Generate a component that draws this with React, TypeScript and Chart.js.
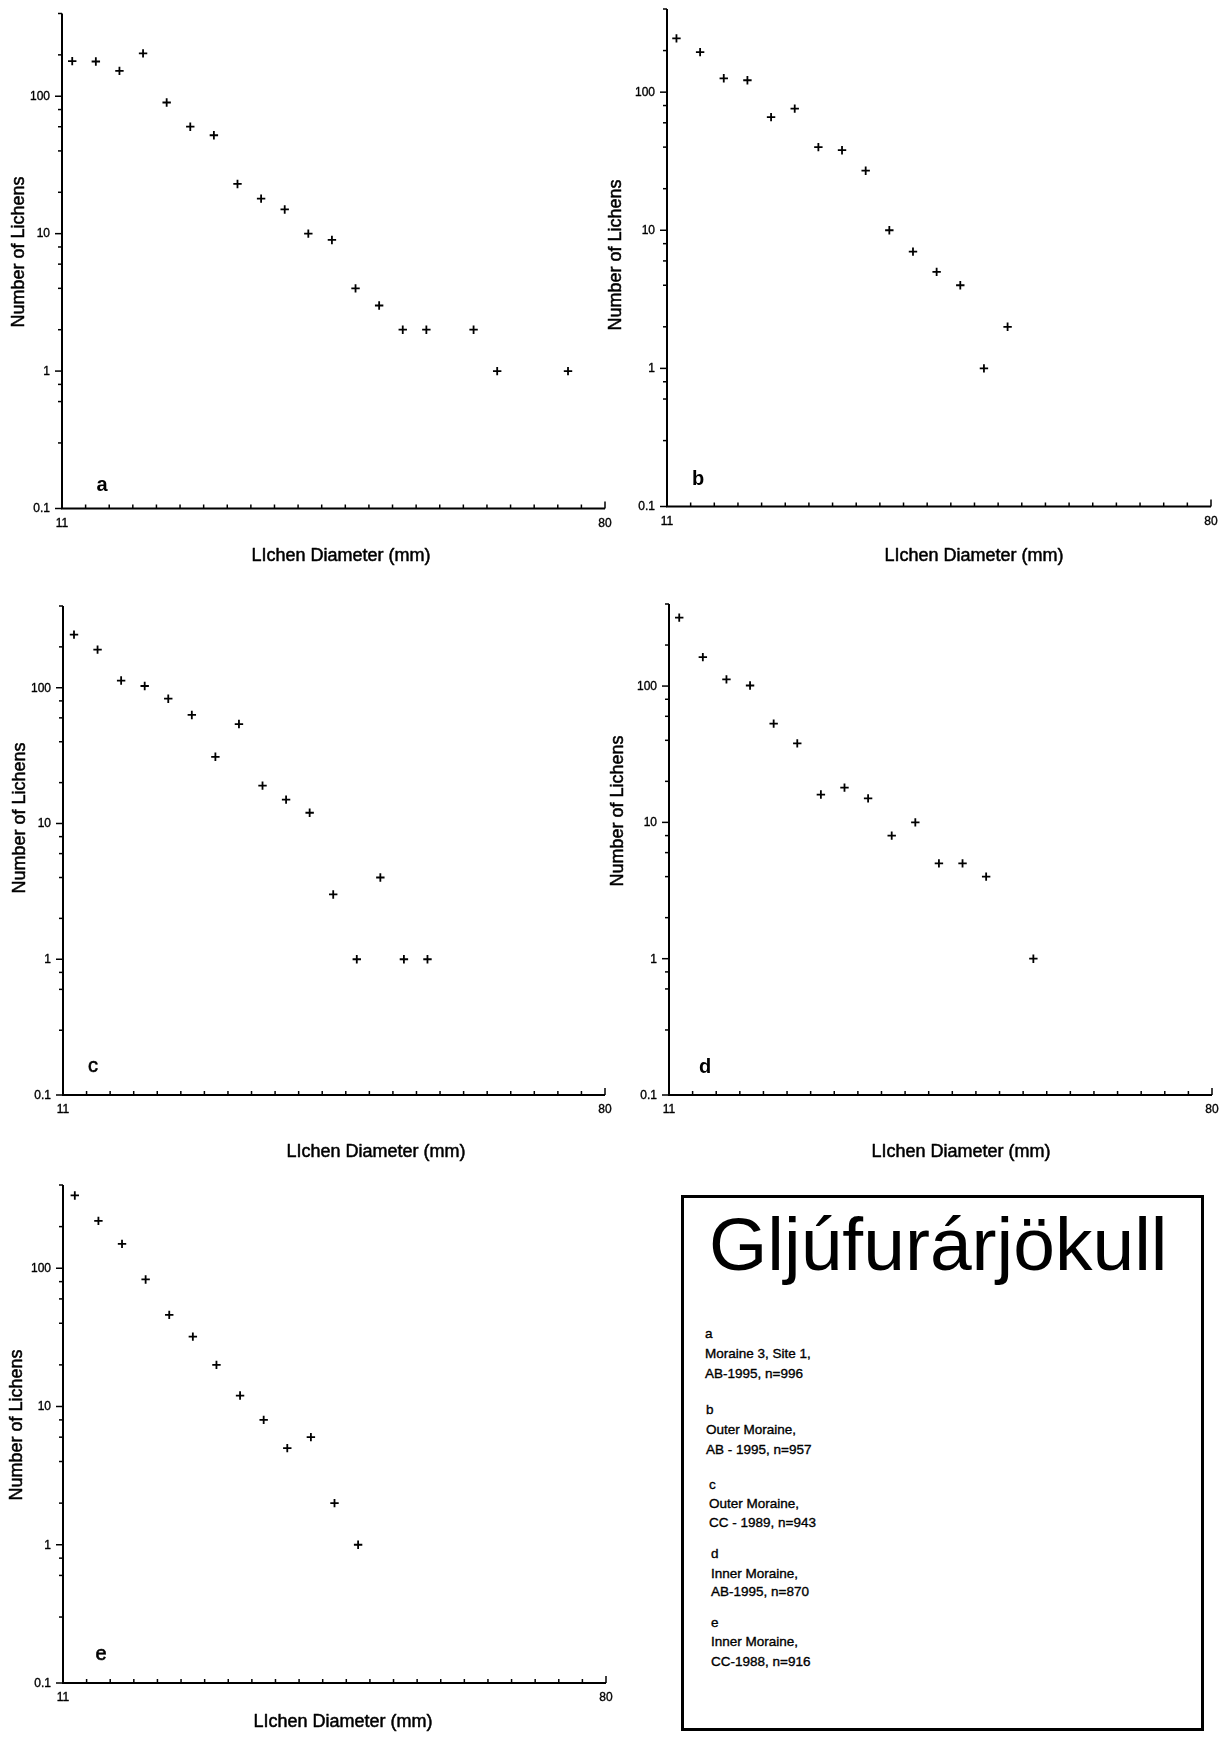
import React, { useEffect, useRef } from 'react';
import { Chart, registerables } from 'chart.js';

Chart.register(...registerables);

// ---------------- data ----------------
const X_A = [12.3, 15.3, 18.3, 21.3, 24.3, 27.3, 30.3, 33.3, 36.3, 39.3, 42.3, 45.3, 48.3, 51.3, 54.3, 57.3, 63.3, 66.3, 75.3];
const Y_A = [180, 179, 153, 205, 90, 60, 52, 23, 18, 15, 10, 9, 4, 3, 2, 2, 2, 1, 1];

const X_B = [12.2, 15.2, 18.2, 21.2, 24.2, 27.2, 30.2, 33.2, 36.2, 39.2, 42.2, 45.2, 48.2, 51.2, 54.2];
const Y_B = [245, 195, 126, 122, 66, 76, 40, 38, 27, 10, 7, 5, 4, 1, 2];

const X_C = [12.4, 15.4, 18.4, 21.4, 24.4, 27.4, 30.4, 33.4, 36.4, 39.4, 42.4, 45.4, 48.4, 51.4, 54.4, 57.4];
const Y_C = [246, 191, 113, 103, 83, 63, 31, 54, 19, 15, 12, 3, 1, 4, 1, 1];

const X_D = [12.3, 15.3, 18.3, 21.3, 24.3, 27.3, 30.3, 33.3, 36.3, 39.3, 42.3, 45.3, 48.3, 51.3, 57.3];
const Y_D = [318, 163, 112, 101, 53, 38, 16, 18, 15, 8, 10, 5, 5, 4, 1];

const X_E = [12.5, 15.5, 18.5, 21.5, 24.5, 27.5, 30.5, 33.5, 36.5, 39.5, 42.5, 45.5, 48.5];
const Y_E = [336, 220, 150, 83, 46, 32, 20, 12, 8, 5, 6, 2, 1];

const PANEL_LETTERS = ['a', 'b', 'c', 'd', 'e'];
const Y_LABEL_VALUES = [0.1, 1, 10, 100];
const Y_LABEL_TEXTS = ['0.1', '1', '10', '100'];
const X_LABEL_VALUES = [11, 80];
const X_LABEL_TEXTS = ['11', '80'];
const X_MIN = 11;
const X_MAX = 80;
const X_STEP = 3;
const Y_MIN = 0.1;
const Y_MAX = 400;
const Y_TITLE = 'Number of Lichens';
const X_TITLE = 'LIchen Diameter (mm)';

const LEGEND_TITLE = 'Gljúfurárjökull';
const LEGEND_LINES = [
  'a', 'Moraine 3, Site 1,', 'AB-1995, n=996',
  'b', 'Outer Moraine,', 'AB - 1995, n=957',
  'c', 'Outer Moraine,', 'CC - 1989, n=943',
  'd', 'Inner Moraine,', 'AB-1995, n=870',
  'e', 'Inner Moraine,', 'CC-1988, n=916',
];

// ---------------- layout (page coordinates) ----------------
type Layout = {
  canvas: { x: number; y: number; w: number; h: number };
  plot: { l: number; r: number; t: number; b: number };
  yTitle: { x: number; y: number };
  xTitle: { x: number; y: number };
  letter: { x: number; y: number; bold: boolean };
};

const LAYOUTS: Layout[] = [
  { canvas: { x: 0, y: 0, w: 615, h: 580 }, plot: { l: 62, r: 605, t: 13.5, b: 508.5 }, yTitle: { x: 19, y: 252 }, xTitle: { x: 341, y: 556 }, letter: { x: 102, y: 485, bold: true } },
  { canvas: { x: 600, y: 0, w: 625, h: 580 }, plot: { l: 667, r: 1211, t: 9, b: 506.5 }, yTitle: { x: 616, y: 255 }, xTitle: { x: 974, y: 556 }, letter: { x: 698, y: 479, bold: true } },
  { canvas: { x: 0, y: 585, w: 615, h: 580 }, plot: { l: 63, r: 605, t: 606, b: 1095 }, yTitle: { x: 20, y: 818 }, xTitle: { x: 376, y: 1152 }, letter: { x: 93, y: 1066, bold: false } },
  { canvas: { x: 600, y: 585, w: 625, h: 580 }, plot: { l: 669, r: 1212, t: 604, b: 1095 }, yTitle: { x: 618, y: 811 }, xTitle: { x: 961, y: 1152 }, letter: { x: 705, y: 1067, bold: true } },
  { canvas: { x: 0, y: 1170, w: 615, h: 573 }, plot: { l: 63, r: 606, t: 1185, b: 1683 }, yTitle: { x: 17, y: 1425 }, xTitle: { x: 343, y: 1722 }, letter: { x: 101, y: 1654, bold: false } },
];

const LEGEND_BOX = { l: 681, t: 1195, r: 1204, b: 1731 };
const LEGEND_TITLE_POS = { x: 709, top: 1206, size: 75 };
const LEGEND_TEXT_X = [705, 705, 705, 706, 706, 706, 709, 709, 709, 711, 711, 711, 711, 711, 711];
const LEGEND_TEXT_Y = [1334, 1354, 1374, 1410, 1430, 1450, 1485, 1504, 1523, 1554, 1574, 1592, 1623, 1642, 1662];

const FONT = '"Liberation Sans", Arial, Helvetica, sans-serif';

const isLabeled = (v: number, list: number[]) => list.findIndex((u) => Math.abs(u - v) < 1e-9 * Math.max(1, u));

function heavyText(ctx: CanvasRenderingContext2D, text: string, x: number, y: number, w: number) {
  ctx.fillText(text, x, y);
  if (w > 0) {
    ctx.lineWidth = w;
    ctx.lineJoin = 'round';
    ctx.strokeText(text, x, y);
  }
}

function Panel({ layout, xs, ys, letter }: { layout: Layout; xs: number[]; ys: number[]; letter: string }) {
  const ref = useRef<HTMLCanvasElement>(null);
  const c = layout.canvas;
  useEffect(() => {
    const p = layout.plot;
    const decor = {
      id: 'decor',
      afterDraw(chart: any) {
        const ctx = chart.ctx as CanvasRenderingContext2D;
        const { left, right, top, bottom } = chart.chartArea;
        const sx = chart.scales.x;
        const sy = chart.scales.y;
        ctx.save();
        ctx.strokeStyle = '#000';
        ctx.fillStyle = '#000';
        ctx.lineCap = 'butt';
        // axis lines
        ctx.lineWidth = 2;
        ctx.beginPath();
        ctx.moveTo(left, top);
        ctx.lineTo(left, bottom);
        ctx.lineTo(right, bottom);
        ctx.stroke();
        // y ticks (outward)
        ctx.lineWidth = 1.5;
        for (const t of sy.ticks) {
          const py = sy.getPixelForValue(t.value);
          const major = isLabeled(t.value, Y_LABEL_VALUES) >= 0;
          const len = major ? 7 : 4;
          ctx.beginPath();
          ctx.moveTo(left, py);
          ctx.lineTo(left - len, py);
          ctx.stroke();
        }
        // x ticks (inward)
        for (const t of sx.ticks) {
          if (t.value <= X_MIN) continue;
          const px = sx.getPixelForValue(t.value);
          const len = t.value >= X_MAX ? 7 : 4;
          ctx.beginPath();
          ctx.moveTo(px, bottom);
          ctx.lineTo(px, bottom - len);
          ctx.stroke();
        }
        // y tick labels
        ctx.font = `12px ${FONT}`;
        ctx.textAlign = 'right';
        ctx.textBaseline = 'middle';
        Y_LABEL_VALUES.forEach((v, i) => {
          heavyText(ctx, Y_LABEL_TEXTS[i], left - 12, sy.getPixelForValue(v) + 0.5, 0.35);
        });
        // x tick labels
        ctx.textAlign = 'center';
        X_LABEL_VALUES.forEach((v, i) => {
          heavyText(ctx, X_LABEL_TEXTS[i], sx.getPixelForValue(v), bottom + 15, 0.35);
        });
        // titles
        ctx.font = `18px ${FONT}`;
        heavyText(ctx, X_TITLE, layout.xTitle.x - c.x, layout.xTitle.y - c.y, 0.5);
        ctx.save();
        ctx.translate(layout.yTitle.x - c.x, layout.yTitle.y - c.y);
        ctx.rotate(-Math.PI / 2);
        heavyText(ctx, Y_TITLE, 0, 0, 0.5);
        ctx.restore();
        // panel letter
        ctx.font = `${layout.letter.bold ? 'bold ' : ''}20px ${FONT}`;
        heavyText(ctx, letter, layout.letter.x - c.x, layout.letter.y - c.y, layout.letter.bold ? 0 : 0.6);
        ctx.restore();
      },
    };
    const chart = new Chart(ref.current as HTMLCanvasElement, {
      type: 'scatter',
      data: {
        datasets: [
          {
            data: xs.map((x, i) => ({ x, y: ys[i] })),
            pointStyle: 'cross',
            pointRadius: 4.2,
            pointBorderWidth: 1.8,
            pointBorderColor: '#000',
            pointBackgroundColor: '#000',
            borderColor: '#000',
            showLine: false,
            clip: false,
          } as any,
        ],
      },
      options: {
        responsive: false,
        animation: false,
        devicePixelRatio: 1,
        events: [],
        layout: {
          padding: { left: p.l - c.x, top: p.t - c.y, right: c.x + c.w - p.r, bottom: c.y + c.h - p.b },
        },
        plugins: { legend: { display: false }, tooltip: { enabled: false }, title: { display: false } },
        scales: {
          x: { type: 'linear', min: X_MIN, max: X_MAX, display: false, ticks: { stepSize: X_STEP } },
          y: { type: 'logarithmic', min: Y_MIN, max: Y_MAX, display: false },
        },
      } as any,
      plugins: [decor],
    });
    return () => chart.destroy();
  }, []);
  return (
    <canvas
      ref={ref}
      width={c.w}
      height={c.h}
      style={{ position: 'absolute', left: c.x, top: c.y, width: c.w, height: c.h }}
    />
  );
}

export default function App() {
  const series = [
    [X_A, Y_A],
    [X_B, Y_B],
    [X_C, Y_C],
    [X_D, Y_D],
    [X_E, Y_E],
  ];
  return (
    <div style={{ position: 'absolute', left: 0, top: 0, width: 1225, height: 1743, background: '#fff', overflow: 'hidden', fontFamily: FONT }}>
      {LAYOUTS.map((l, i) => (
        <Panel key={i} layout={l} xs={series[i][0]} ys={series[i][1]} letter={PANEL_LETTERS[i]} />
      ))}
      <div
        style={{
          position: 'absolute',
          left: LEGEND_BOX.l,
          top: LEGEND_BOX.t,
          width: LEGEND_BOX.r - LEGEND_BOX.l,
          height: LEGEND_BOX.b - LEGEND_BOX.t,
          border: '3px solid #000',
          boxSizing: 'border-box',
        }}
      />
      <div
        style={{
          position: 'absolute',
          left: LEGEND_TITLE_POS.x,
          top: LEGEND_TITLE_POS.top,
          fontSize: LEGEND_TITLE_POS.size,
          lineHeight: `${LEGEND_TITLE_POS.size + 1}px`,
          whiteSpace: 'nowrap',
          color: '#000',
        }}
      >
        {LEGEND_TITLE}
      </div>
      {LEGEND_LINES.map((t, i) => (
        <div
          key={i}
          style={{
            position: 'absolute',
            left: LEGEND_TEXT_X[i],
            top: LEGEND_TEXT_Y[i] - 8,
            fontSize: 13.5,
            lineHeight: '16px',
            whiteSpace: 'nowrap',
            color: '#000',
            WebkitTextStroke: '0.35px #000',
          }}
        >
          {t}
        </div>
      ))}
    </div>
  );
}
